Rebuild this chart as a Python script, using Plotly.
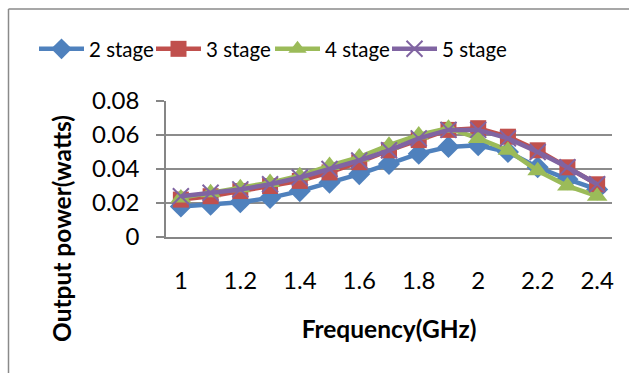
import plotly.graph_objects as go

freq = [1.0, 1.1, 1.2, 1.3, 1.4, 1.5, 1.6, 1.7, 1.8, 1.9, 2.0, 2.1, 2.2, 2.3, 2.4]
stage2 = [0.018, 0.019, 0.0205, 0.023, 0.027, 0.032, 0.037, 0.043, 0.049, 0.053, 0.054, 0.050, 0.041, 0.034, 0.028]
stage3 = [0.022, 0.024, 0.027, 0.030, 0.033, 0.038, 0.044, 0.051, 0.057, 0.063, 0.064, 0.059, 0.051, 0.041, 0.031]
stage4 = [0.023, 0.026, 0.029, 0.032, 0.036, 0.042, 0.047, 0.054, 0.060, 0.064, 0.058, 0.051, 0.039, 0.030, 0.024]
stage5 = [0.024, 0.026, 0.028, 0.031, 0.035, 0.040, 0.045, 0.051, 0.058, 0.063, 0.063, 0.058, 0.050, 0.041, 0.031]
names = ["2 stage", "3 stage", "4 stage", "5 stage"]
xticks = [1.0, 1.2, 1.4, 1.6, 1.8, 2.0, 2.2, 2.4]
xticktext = ["1", "1.2", "1.4", "1.6", "1.8", "2", "2.2", "2.4"]
yticks = [0, 0.02, 0.04, 0.06, 0.08]
yticktext = ["0", "0.02", "0.04", "0.06", "0.08"]

colors = ["#4F81BD", "#C0504D", "#9BBB59", "#8064A2"]
symbols = ["diamond", "square", "triangle-up", "x-thin"]
sizes = [17, 16, 18, 16]
legend_ids = ["legend", "legend2", "legend3", "legend4"]
legend_px = [34, 151, 270, 387]

FONT = "Lato"
W, H = 629, 373
ml, mr, mt, mb = 166, 17, 101, 136
pw, ph = W - ml - mr, H - mt - mb

def px2paper_x(px):
    return (px - ml) / pw

def py2paper_y(py):
    return (H - mb - py) / ph

fig = go.Figure()
for name, vals, c, s, sz, lid in zip(names, [stage2, stage3, stage4, stage5], colors, symbols, sizes, legend_ids):
    marker = dict(symbol=s, size=sz, color=c)
    if s == "x-thin":
        marker["line"] = dict(color=c, width=2)
    fig.add_trace(go.Scatter(x=freq, y=vals, name=name, mode="lines+markers",
                             line=dict(color=c, width=4.5), marker=marker, legend=lid))

legends = {}
for lid, lx in zip(legend_ids, legend_px):
    legends[lid] = dict(orientation="h", xref="paper", x=px2paper_x(lx), xanchor="left",
                        yref="paper", y=py2paper_y(49), yanchor="middle",
                        font=dict(size=20.5), itemwidth=45,
                        bgcolor="rgba(0,0,0,0)")

fig.update_layout(
    width=W, height=H,
    margin=dict(l=ml, r=mr, t=mt, b=mb, autoexpand=False),
    paper_bgcolor="white", plot_bgcolor="white",
    font=dict(family=FONT, size=24, color="black"),
    showlegend=True,
    **legends,
    xaxis=dict(range=[0.95, 2.45], tickvals=xticks, ticktext=xticktext,
               showgrid=False, zeroline=False, showline=True, linecolor="#868686",
               linewidth=1.5, ticks="", ticklabelstandoff=21,
               title=dict(text="<b>Frequency(GHz)</b>", font=dict(size=24.5), standoff=28)),
    yaxis=dict(range=[0, 0.08], tickvals=yticks, ticktext=yticktext,
               showgrid=True, gridcolor="#8c8c8c", gridwidth=1.5, zeroline=False,
               showline=True, linecolor="#868686", linewidth=1.5,
               ticks="outside", ticklen=8, tickcolor="#868686", tickwidth=1.5,
               ticklabelstandoff=12),
    annotations=[
        dict(text="<b>Output power(watts)</b>", textangle=-90, showarrow=False,
             xref="paper", yref="paper", x=px2paper_x(61), y=py2paper_y(229),
             xanchor="center", yanchor="middle", font=dict(size=24.5)),
    ],
    shapes=[
        dict(type="line", xref="paper", yref="paper",
             x0=px2paper_x(8.5), x1=px2paper_x(640), y0=py2paper_y(9), y1=py2paper_y(9),
             line=dict(color="#8a8a8a", width=1.5)),
        dict(type="line", xref="paper", yref="paper",
             x0=px2paper_x(8.5), x1=px2paper_x(8.5), y0=py2paper_y(9), y1=py2paper_y(380),
             line=dict(color="#8a8a8a", width=1.5)),
    ],
)

fig.write_html("out.html")
